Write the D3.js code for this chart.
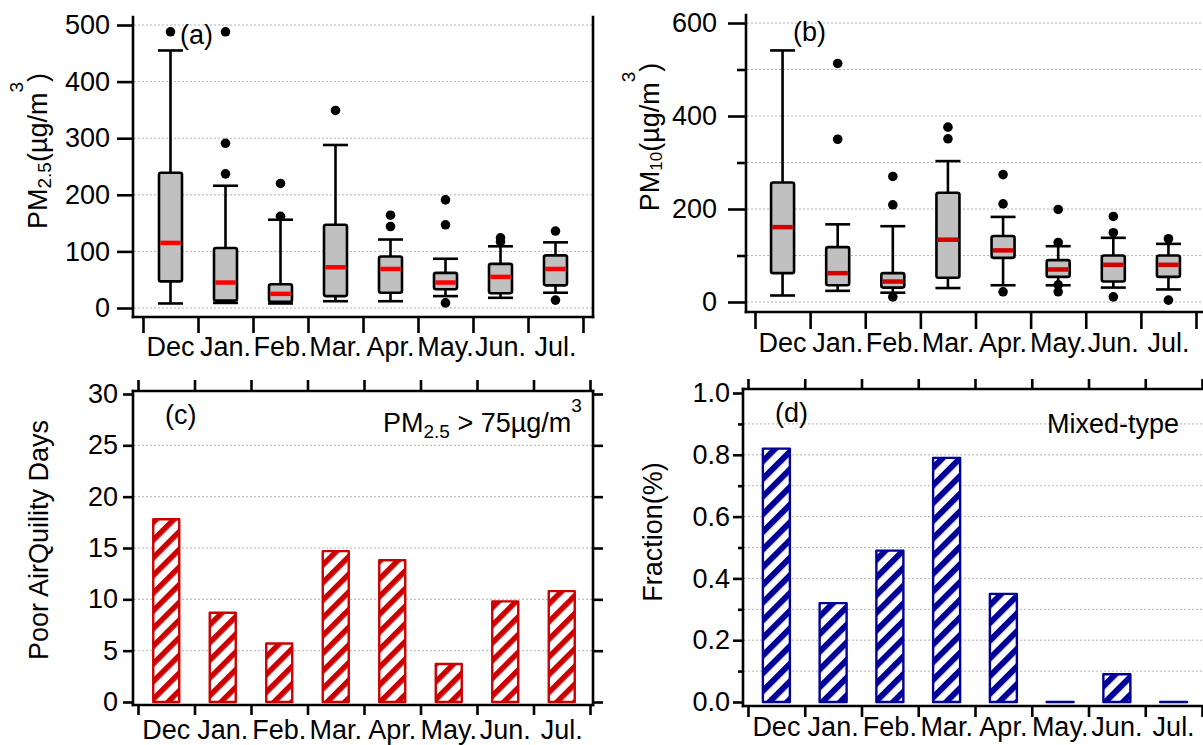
<!DOCTYPE html>
<html>
<head>
<meta charset="utf-8">
<script src="https://cdn.jsdelivr.net/npm/d3@7"></script>
<style>
body { margin: 0; background: #fff; }
svg { font-family: "Liberation Sans", Arial, sans-serif; }
</style>
</head>
<body>
<svg id="fig" width="1203" height="745"></svg>
<script>
var months = ["Dec", "Jan.", "Feb.", "Mar.", "Apr.", "May.", "Jun.", "Jul."];

// (a) PM2.5 box stats
var pm25Low  = [8, 9, 8, 12, 12, 21, 18, 27];
var pm25Q1   = [47, 13, 11, 21, 27, 33, 26, 40];
var pm25Med  = [115, 45, 25, 72, 69, 45, 55, 69];
var pm25Q3   = [239, 106, 42, 147, 91, 62, 78, 93];
var pm25High = [455, 216, 156, 288, 121, 87, 109, 116];
var pm25Out  = [[488], [488, 291, 237], [220, 162], [349], [164, 144], [191, 147, 9], [124, 117], [136, 14]];

// (b) PM10 box stats
var pm10Low  = [14, 24, 20, 30, 36, 36, 31, 27];
var pm10Q1   = [62, 36, 31, 52, 95, 54, 44, 54];
var pm10Med  = [161, 62, 44, 134, 111, 70, 80, 80];
var pm10Q3   = [257, 118, 62, 235, 142, 90, 100, 100];
var pm10High = [541, 167, 163, 303, 183, 120, 138, 125];
var pm10Out  = [[], [513, 350], [270, 209, 11], [376, 351], [274, 211, 22], [199, 128, 37, 22], [184, 149, 11], [136, 4]];

// (c) poor air quality days, (d) mixed-type fraction
var poorDays  = [17.8, 8.7, 5.7, 14.7, 13.8, 3.7, 9.8, 10.8];
var mixedFrac = [0.82, 0.32, 0.49, 0.79, 0.35, 0, 0.09, 0];

var svg = d3.select("#fig");
var FONT = 27;
var LW = 2.6;

var defs = svg.append("defs");
function hatch(id, color, w) {
    var p = defs.append("pattern")
        .attr("id", id)
        .attr("patternUnits", "userSpaceOnUse")
        .attr("width", 12.5)
        .attr("height", 12.5)
        .attr("patternTransform", "rotate(45)");
    p.append("rect").attr("width", 12.5).attr("height", 12.5).attr("fill", "#fff");
    p.append("rect").attr("width", w).attr("height", 12.5).attr("fill", color);
}
hatch("hatchRed", "#cc0000", 5.5);
hatch("hatchBlue", "#000099", 6);

function styleAxis(g) {
    g.attr("font-size", FONT).attr("font-family", null);
    g.select(".domain").remove();
    g.selectAll(".tick line").attr("stroke", "#000").attr("stroke-width", LW);
    g.selectAll(".tick text").attr("fill", "#000");
}

function frameLine(x1, y1, x2, y2) {
    svg.append("line")
        .attr("x1", x1).attr("y1", y1).attr("x2", x2).attr("y2", y2)
        .attr("stroke", "#000").attr("stroke-width", LW)
        .attr("stroke-linecap", "square");
}

function gridLines(vals, y, x0, x1) {
    svg.append("g").selectAll("line")
        .data(vals).enter().append("line")
        .attr("x1", x0).attr("x2", x1)
        .attr("y1", function(d) { return y(d); })
        .attr("y2", function(d) { return y(d); })
        .attr("stroke", "#b4b4b4")
        .attr("stroke-width", 1)
        .attr("stroke-dasharray", "2,2");
}

// category axis: labels in band centers, ticks on band edges
function catAxis(o) {
    var x = d3.scaleBand().domain(months).range(o.range);
    var edge = d3.scaleLinear().domain([0, months.length]).range(o.range);
    svg.append("g")
        .attr("transform", "translate(0," + o.y + ")")
        .call(d3.axisBottom(x).tickSize(0).tickPadding(o.labelPad))
        .call(styleAxis);
    svg.append("g")
        .attr("transform", "translate(0," + o.y + ")")
        .call(d3.axisBottom(edge).tickValues(d3.range(months.length + 1)).tickSize(o.tick).tickFormat(""))
        .call(styleAxis);
    if (o.topY !== undefined) {
        svg.append("g")
            .attr("transform", "translate(0," + o.topY + ")")
            .call(d3.axisTop(edge).tickValues(d3.range(months.length + 1)).tickSize(o.topTick).tickFormat(""))
            .call(styleAxis);
    }
    return x;
}

function yTitle(x, y, parts) {
    var t = svg.append("text")
        .attr("transform", "translate(" + x + "," + y + ") rotate(-90)")
        .attr("text-anchor", "middle")
        .attr("font-size", FONT);
    parts.forEach(function(p) {
        t.append("tspan").attr("font-size", p.size || FONT).attr("dy", p.dy || 0).text(p.t);
    });
}

function label(x, y, parts, anchor) {
    var t = svg.append("text")
        .attr("x", x).attr("y", y)
        .attr("text-anchor", anchor || "start")
        .attr("font-size", FONT);
    parts.forEach(function(p) {
        t.append("tspan").attr("font-size", p.size || FONT).attr("dy", p.dy || 0).text(p.t);
    });
}

function boxPanel(o) {
    var y = d3.scaleLinear().domain(o.domain).range(o.yRange);
    gridLines(o.grid, y, o.left + 1, o.right - 1);

    svg.append("g")
        .attr("transform", "translate(" + o.left + ",0)")
        .call(d3.axisLeft(y).tickValues(o.major).tickSize(o.tick).tickPadding(o.pad))
        .call(styleAxis);
    if (o.minor) {
        svg.append("g")
            .attr("transform", "translate(" + o.left + ",0)")
            .call(d3.axisLeft(y).tickValues(o.minor).tickSize(o.minorTick).tickFormat(""))
            .call(styleAxis);
    }

    var x = catAxis({ range: o.band, y: o.bottom, labelPad: o.labelPad, tick: o.catTick });

    frameLine(o.left, o.top, o.left, o.bottom);
    frameLine(o.left, o.bottom, o.right, o.bottom);
    if (o.rightLine) frameLine(o.right, o.top, o.right, o.bottom);

    var bw = o.boxW;
    var rows = months.map(function(m, i) {
        return { m: m, lo: o.low[i], q1: o.q1[i], med: o.med[i], q3: o.q3[i], hi: o.high[i], out: o.out[i] };
    });
    var g = svg.append("g").selectAll("g").data(rows).enter().append("g")
        .attr("transform", function(d) { return "translate(" + (x(d.m) + x.bandwidth() / 2) + ",0)"; });

    // whiskers
    g.append("line").attr("x1", 0).attr("x2", 0)
        .attr("y1", function(d) { return y(d.lo); })
        .attr("y2", function(d) { return y(d.hi); })
        .attr("stroke", "#000").attr("stroke-width", LW);
    g.append("line").attr("x1", -bw / 2 - 1).attr("x2", bw / 2 + 1)
        .attr("y1", function(d) { return y(d.lo); })
        .attr("y2", function(d) { return y(d.lo); })
        .attr("stroke", "#000").attr("stroke-width", LW);
    g.append("line").attr("x1", -bw / 2 - 1).attr("x2", bw / 2 + 1)
        .attr("y1", function(d) { return y(d.hi); })
        .attr("y2", function(d) { return y(d.hi); })
        .attr("stroke", "#000").attr("stroke-width", LW);
    // box
    g.append("rect")
        .attr("x", -bw / 2).attr("width", bw)
        .attr("y", function(d) { return y(d.q3); })
        .attr("height", function(d) { return y(d.q1) - y(d.q3); })
        .attr("rx", 2)
        .attr("fill", "#c0c0c0").attr("stroke", "#000").attr("stroke-width", LW);
    // median
    g.append("line").attr("x1", -bw / 2 + 1.3).attr("x2", bw / 2 - 1.3)
        .attr("y1", function(d) { return y(d.med); })
        .attr("y2", function(d) { return y(d.med); })
        .attr("stroke", o.medColor).attr("stroke-width", 4.5);
    // outliers
    g.selectAll("circle").data(function(d) { return d.out; }).enter().append("circle")
        .attr("cx", 0).attr("cy", function(v) { return y(v); })
        .attr("r", 4.8).attr("fill", "#000");
}

function barPanel(o) {
    var y = d3.scaleLinear().domain(o.domain).range(o.yRange);
    gridLines(o.grid, y, o.left + 1, o.right - 1);

    svg.append("g")
        .attr("transform", "translate(" + o.left + ",0)")
        .call(d3.axisLeft(y).tickValues(o.major).tickSize(o.tick).tickPadding(o.pad).tickFormat(o.fmt))
        .call(styleAxis);
    if (o.minor) {
        svg.append("g")
            .attr("transform", "translate(" + o.left + ",0)")
            .call(d3.axisLeft(y).tickValues(o.minor).tickSize(o.minorTick).tickFormat(""))
            .call(styleAxis);
    }
    if (o.rightLine) {
        svg.append("g")
            .attr("transform", "translate(" + o.right + ",0)")
            .call(d3.axisRight(y).tickValues(o.major).tickSize(o.tick).tickFormat(""))
            .call(styleAxis);
    }

    var x = catAxis({ range: o.band, y: o.bottom, labelPad: o.labelPad, tick: o.catTick, topY: o.top, topTick: o.topTick });

    frameLine(o.left, o.top, o.left, o.bottom);
    frameLine(o.left, o.bottom, o.right, o.bottom);
    frameLine(o.left, o.top, o.right, o.top);
    if (o.rightLine) frameLine(o.right, o.top, o.right, o.bottom);

    var bw = o.barW;
    svg.append("g").selectAll("path")
        .data(months.map(function(m, i) { return { m: m, v: o.values[i] }; }))
        .enter().append("path")
        .attr("d", function(d) {
            var x0 = x(d.m) + (x.bandwidth() - bw) / 2;
            var p = d3.path();
            p.moveTo(x0, y(0));
            p.lineTo(x0, y(d.v));
            p.lineTo(x0 + bw, y(d.v));
            p.lineTo(x0 + bw, y(0));
            p.closePath();
            return p.toString();
        })
        .attr("fill", "url(#" + o.pattern + ")")
        .attr("stroke", o.color)
        .attr("stroke-width", 2.4)
        .attr("stroke-linejoin", "round");
}

// (a)
boxPanel({
    left: 133, right: 593, top: 17, bottom: 317,
    domain: [0, 500], yRange: [308, 25],
    major: [0, 100, 200, 300, 400, 500], grid: [0, 100, 200, 300, 400, 500],
    tick: 16, pad: 7,
    band: [143, 583], labelPad: 20, catTick: 16,
    boxW: 23, medColor: "#ff0000", rightLine: true,
    low: pm25Low, q1: pm25Q1, med: pm25Med, q3: pm25Q3, high: pm25High, out: pm25Out
});
yTitle(47, 151, [{ t: "PM" }, { t: "2.5", size: 19, dy: 4 }, { t: "(µg/m", dy: -4 }, { t: "3", size: 19, dy: -24 }, { t: ")", dy: 24 }]);
label(180, 44, [{ t: "(a)" }]);

// (b)
boxPanel({
    left: 746, right: 1215, top: 15, bottom: 312,
    domain: [0, 600], yRange: [302, 23],
    major: [0, 200, 400, 600], minor: [100, 300, 500], minorTick: 9,
    grid: [0, 100, 200, 300, 400, 500, 600],
    tick: 18, pad: 11,
    band: [755, 1196], labelPad: 21, catTick: 17,
    boxW: 23, medColor: "#d40000", rightLine: false,
    low: pm10Low, q1: pm10Q1, med: pm10Med, q3: pm10Q3, high: pm10High, out: pm10Out
});
yTitle(659, 137, [{ t: "PM" }, { t: "10", size: 17, dy: 3 }, { t: "(µg/m", dy: -3 }, { t: "3", size: 19, dy: -24 }, { t: ")", dy: 24 }]);
label(793, 41, [{ t: "(b)" }]);

// (c)
barPanel({
    left: 133, right: 593, top: 391, bottom: 705,
    domain: [0, 30], yRange: [702, 394],
    major: [0, 5, 10, 15, 20, 25, 30], grid: [5, 10, 15, 20, 25],
    tick: 10, pad: 5, fmt: d3.format("d"),
    band: [138, 590], labelPad: 15, catTick: 10, topTick: 11,
    barW: 26, values: poorDays, pattern: "hatchRed", color: "#cc0000", rightLine: true
});
yTitle(48, 540, [{ t: "Poor AirQuility Days" }]);
label(165, 424, [{ t: "(c)" }]);
label(383, 432, [{ t: "PM" }, { t: "2.5", size: 19, dy: 6 }, { t: " > 75µg/m", dy: -6 }, { t: "3", size: 19, dy: -20 }]);

// (d)
barPanel({
    left: 743, right: 1215, top: 389, bottom: 706,
    domain: [0, 1], yRange: [702, 393],
    major: [0, 0.2, 0.4, 0.6, 0.8, 1.0], minor: [0.1, 0.3, 0.5, 0.7, 0.9], minorTick: 5,
    grid: [0.1, 0.2, 0.3, 0.4, 0.5, 0.6, 0.7, 0.8, 0.9],
    tick: 10, pad: 3, fmt: d3.format(".1f"),
    band: [748, 1202], labelPad: 11, catTick: 11, topTick: 10,
    barW: 27, values: mixedFrac, pattern: "hatchBlue", color: "#000099", rightLine: false
});
yTitle(662, 532, [{ t: "Fraction(%)" }]);
label(775, 422, [{ t: "(d)" }]);
label(1047, 433, [{ t: "Mixed-type" }]);
</script>
</body>
</html>
